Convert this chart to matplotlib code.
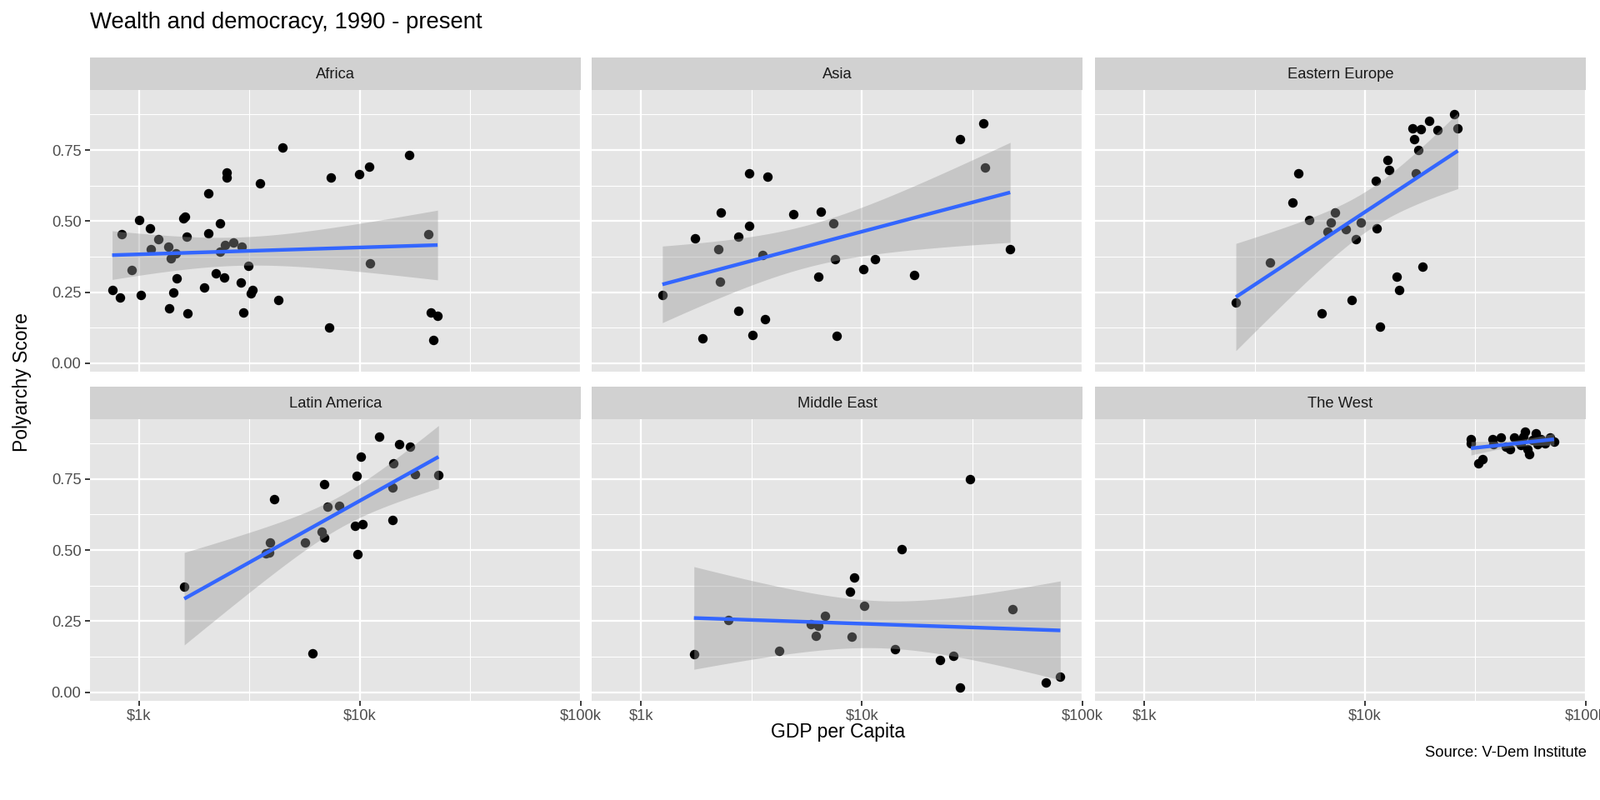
import matplotlib.pyplot as plt
import matplotlib.ticker as mticker
import numpy as np

plt.rcParams['font.family'] = ['Liberation Sans', 'DejaVu Sans']

regions = ["Africa", "Asia", "Eastern Europe", "Latin America", "Middle East", "The West"]

africa_gdp = [754, 819, 830, 923, 1000, 1020, 1124, 1225, 1132, 1359, 1467, 1396, 1475, 1423,
              1372, 1660, 1578, 1611, 1638, 1968, 2048, 2062, 2233, 2324, 2317, 2443, 2483, 2483,
              2434, 2661, 2915, 2897, 2967, 3115, 3199, 3265, 3534, 4272, 4446, 7239, 7363, 9935,
              11015, 11128, 16750, 20460, 21020, 22480, 21530]
africa_score = [0.258, 0.231, 0.453, 0.327, 0.505, 0.240, 0.476, 0.438, 0.402, 0.410, 0.387,
                0.368, 0.299, 0.248, 0.193, 0.177, 0.509, 0.515, 0.444, 0.267, 0.457, 0.597,
                0.316, 0.492, 0.392, 0.416, 0.670, 0.653, 0.303, 0.425, 0.411, 0.283, 0.179,
                0.344, 0.246, 0.259, 0.633, 0.223, 0.758, 0.125, 0.653, 0.666, 0.691, 0.351,
                0.734, 0.455, 0.179, 0.167, 0.082]

asia_gdp = [1247, 1746, 2297, 2244, 2277, 2750, 2758, 3090, 3090, 3734, 3541, 4887, 6515, 7430,
            7520, 6340, 10110, 11510, 17170, 27820, 35620, 36240, 46950, 1892, 3190, 3630, 7650]
asia_score = [0.239, 0.439, 0.531, 0.400, 0.287, 0.444, 0.184, 0.667, 0.483, 0.657, 0.381,
              0.526, 0.532, 0.493, 0.367, 0.306, 0.332, 0.366, 0.311, 0.789, 0.843, 0.688,
              0.401, 0.089, 0.100, 0.155, 0.097]

eeurope_gdp = [2600, 3724, 5000, 4709, 5606, 6345, 6750, 7027, 7310, 8222, 8695, 9078, 9575,
               11194, 11300, 11690, 12620, 12830, 13900, 14280, 16420, 16750, 17900, 17490,
               17030, 18150, 19600, 21290, 25290, 26340]
eeurope_score = [0.213, 0.354, 0.668, 0.565, 0.503, 0.176, 0.462, 0.494, 0.531, 0.472, 0.222,
                 0.436, 0.495, 0.641, 0.476, 0.128, 0.716, 0.681, 0.305, 0.259, 0.827, 0.789,
                 0.823, 0.751, 0.668, 0.339, 0.853, 0.821, 0.876, 0.828]

latam_gdp = [1600, 6080, 4074, 3900, 3750, 3865, 5662, 6683, 6870, 6886, 7160, 8052, 9506,
             10280, 9700, 10090, 9790, 12270, 14170, 14060, 14100, 15000, 16870, 17700, 22700]
latam_score = [0.371, 0.138, 0.680, 0.528, 0.489, 0.491, 0.527, 0.565, 0.543, 0.732, 0.654,
               0.656, 0.586, 0.591, 0.762, 0.828, 0.485, 0.900, 0.806, 0.719, 0.605, 0.874,
               0.865, 0.766, 0.763]

mideast_gdp = [1733, 2472, 4228, 5885, 6365, 6197, 6780, 8827, 9227, 8983, 10210, 14130, 15110,
               22540, 25990, 27800, 30760, 48190, 68230, 79210]
mideast_score = [0.133, 0.253, 0.145, 0.239, 0.233, 0.199, 0.269, 0.355, 0.402, 0.195, 0.304,
                 0.151, 0.503, 0.114, 0.129, 0.016, 0.750, 0.293, 0.034, 0.055]

west_gdp = [30200, 30200, 32600, 34000, 37800, 38200, 41200, 43400, 45400, 47400, 49400, 51000,
            52100, 53200, 54400, 55600, 57400, 59300, 60600, 62500, 65200, 68800, 71800]
west_score = [0.891, 0.876, 0.804, 0.819, 0.891, 0.873, 0.895, 0.865, 0.854, 0.895, 0.880,
              0.869, 0.898, 0.917, 0.854, 0.836, 0.887, 0.910, 0.873, 0.891, 0.876, 0.895, 0.880]

gdp_list = [africa_gdp, asia_gdp, eeurope_gdp, latam_gdp, mideast_gdp, west_gdp]
score_list = [africa_score, asia_score, eeurope_score, latam_score, mideast_score, west_score]

x_ticks = [1e3, 1e4, 1e5]
x_labels = ["$1k", "$10k", "$100k"]
y_ticks = [0.0, 0.25, 0.5, 0.75]
y_labels = ["0.00", "0.25", "0.50", "0.75"]


def t975(df):
    # approx 97.5% t quantile
    z = 1.959964
    return z + (z**3 + z) / (4 * df) + (5 * z**5 + 16 * z**3 + 3 * z) / (96 * df**2)


def lm_band(gdp, score, n=80):
    x = np.log10(np.array(gdp, dtype=float))
    y = np.array(score, dtype=float)
    b, a = np.polyfit(x, y, 1)
    resid = y - (a + b * x)
    df = len(x) - 2
    s = np.sqrt(np.sum(resid**2) / df)
    xs = np.linspace(x.min(), x.max(), n)
    fit = a + b * xs
    se = s * np.sqrt(1 / len(x) + (xs - x.mean())**2 / np.sum((x - x.mean())**2))
    t = t975(df)
    return 10**xs, fit, fit - t * se, fit + t * se


# shared scales with ggplot style 5% expansion
all_x = np.log10(np.concatenate([np.array(g, dtype=float) for g in gdp_list]))
all_y = np.concatenate([np.array(s, dtype=float) for s in score_list])
xr = all_x.max() - all_x.min()
yr = all_y.max() - all_y.min()
xlim = (10**(all_x.min() - 0.05 * xr), max(10**(all_x.max() + 0.05 * xr), 1.0001e5))
ylim = (all_y.min() - 0.05 * yr, all_y.max() + 0.05 * yr)

W, H = 1920, 960
fig = plt.figure(figsize=(12.8, 6.4), dpi=150)

lefts = [107.8, 710.2, 1313.9]
tops = [107.8, 502.5]
pw, ph = 589.0, 338.0
strip_h = 38.5

for i, region in enumerate(regions):
    r, c = divmod(i, 3)
    l, t = lefts[c], tops[r]
    ax = fig.add_axes([l / W, 1 - (t + ph) / H, pw / W, ph / H])
    sax = fig.add_axes([l / W, 1 - t / H, pw / W, strip_h / H])
    sax.set_facecolor('#D1D1D1')
    sax.set_xticks([])
    sax.set_yticks([])
    for sp in sax.spines.values():
        sp.set_visible(False)
    sax.text(0.5, 0.48, region, ha='center', va='center', fontsize=8.8, color='#1A1A1A',
             transform=sax.transAxes)

    ax.set_facecolor('#E5E5E5')
    ax.set_xscale('log')
    ax.set_xlim(*xlim)
    ax.set_ylim(*ylim)
    ax.xaxis.set_major_locator(mticker.FixedLocator(x_ticks))
    ax.xaxis.set_minor_locator(mticker.FixedLocator([10**2.5, 10**3.5, 10**4.5]))
    ax.xaxis.set_minor_formatter(mticker.NullFormatter())
    ax.set_yticks(y_ticks)
    ax.set_yticks([0.125, 0.375, 0.625, 0.875], minor=True)
    ax.grid(which='major', color='white', linewidth=1.1)
    ax.grid(which='minor', color='white', linewidth=0.55)
    ax.set_axisbelow(True)
    for sp in ax.spines.values():
        sp.set_visible(False)
    ax.tick_params(which='minor', length=0)
    ax.tick_params(which='major', length=2.75, width=0.9, color='#333333',
                   labelsize=8.8, labelcolor='#4D4D4D', pad=2.2)

    if r == 1:
        ax.set_xticklabels(x_labels)
    else:
        ax.set_xticklabels([])
        ax.tick_params(axis='x', which='major', length=0)
    if c == 0:
        ax.set_yticklabels(y_labels)
    else:
        ax.set_yticklabels([])
        ax.tick_params(axis='y', which='major', length=0)

    gdp, score = gdp_list[i], score_list[i]
    ax.scatter(gdp, score, s=30, color='black', linewidths=0, zorder=2)
    xs, fit, lo, hi = lm_band(gdp, score)
    ax.fill_between(xs, lo, hi, color='#999999', alpha=0.4, linewidth=0, zorder=3)
    ax.plot(xs, fit, color='#3366FF', linewidth=2.1, zorder=4, solid_capstyle='butt')

fig.text(108 / W, 1 - 27 / H, "Wealth and democracy, 1990 - present", ha='left', va='center',
         fontsize=13.2, color='black')
fig.text(1006 / W, 1 - 879 / H, "GDP per Capita", ha='center', va='center', fontsize=11,
         color='black')
fig.text(27 / W, 1 - 459 / H, "Polyarchy Score", ha='center', va='center', rotation=90,
         fontsize=11, color='black')
fig.text(1904 / W, 1 - 903 / H, "Source: V-Dem Institute", ha='right', va='center',
         fontsize=8.8, color='black')

fig.savefig('out.png', dpi=150)
